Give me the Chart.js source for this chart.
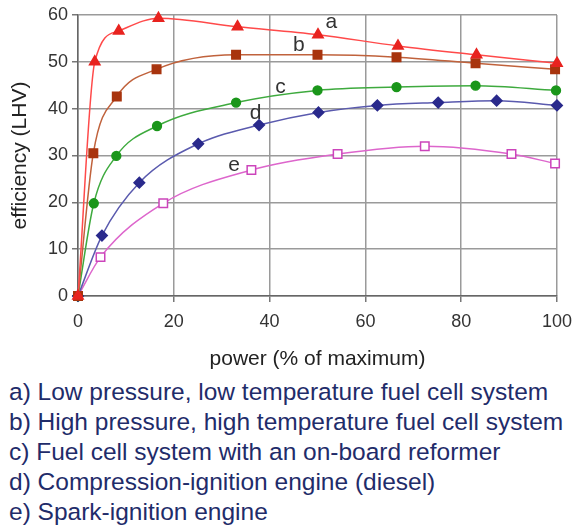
<!DOCTYPE html>
<html>
<head>
<meta charset="utf-8">
<script src="https://cdn.jsdelivr.net/npm/chart.js@4/dist/chart.umd.min.js"></script>
<style>
  html, body { margin: 0; padding: 0; background: #fff; }
  #wrap { position: relative; width: 581px; height: 375px; }
  #legend { position: absolute; left: 9px; top: 377px; font-family: 'Liberation Sans', Arial, sans-serif; font-size: 24.5px; line-height: 30px; color: #1f2c6a; white-space: nowrap; }
</style>
</head>
<body>
<div id="wrap"><canvas id="c"></canvas></div>
<div id="legend"></div>
<script>
// ---- data (x = power % of maximum, y = efficiency LHV) ----
const xTicks = [0, 20, 40, 60, 80, 100];
const yTicks = [0, 10, 20, 30, 40, 50, 60];

const aX = [0, 3.5, 8.5, 16.8, 33.3, 50.1, 66.8, 83.2, 100];
const aY = [0, 50.0, 56.6, 59.3, 57.5, 55.8, 53.4, 51.5, 49.7];

const bX = [0, 3.2, 8.1, 16.4, 33.0, 50.0, 66.5, 83.0, 99.6];
const bY = [0, 30.5, 42.6, 48.4, 51.5, 51.5, 51.0, 49.7, 48.4];

const cX = [0, 3.3, 8.0, 16.5, 33.0, 50.0, 66.5, 83.0, 99.8];
const cY = [0, 19.8, 29.9, 36.3, 41.3, 43.9, 44.6, 44.9, 43.9];

const dX = [0, 5.0, 12.8, 25.1, 37.8, 50.2, 62.5, 75.2, 87.4, 100];
const dY = [0, 12.9, 24.2, 32.5, 36.5, 39.2, 40.7, 41.3, 41.7, 40.7];

const eX = [0, 4.7, 17.8, 36.2, 54.2, 72.4, 90.5, 99.6];
const eY = [0, 8.3, 19.8, 26.9, 30.3, 32.0, 30.3, 28.3];

const curveNames = ['a', 'b', 'c', 'd', 'e'];
const curveLabelX = [52.9, 46.1, 42.3, 37.1, 32.6];
const curveLabelY = [58.4, 53.6, 44.6, 39.0, 27.9];

const legendLines = [
  'a) Low pressure, low temperature fuel cell system',
  'b) High pressure, high temperature fuel cell system',
  'c) Fuel cell system with an on-board reformer',
  'd) Compression-ignition engine (diesel)',
  'e) Spark-ignition engine'
];

const xTitle = 'power (% of maximum)';
const yTitle = 'efficiency (LHV)';

// ---- build ----
function pts(xs, ys) { return xs.map((x, i) => ({x: x, y: ys[i]})); }

const FONT = "'Liberation Sans', Arial, sans-serif";

const styles = [
  {line: '#ff4a4a', mark: '#e8231f', fill: '#e8231f', shape: 'triangle', r: 6.0},
  {line: '#c0623c', mark: '#a8340e', fill: '#a8340e', shape: 'rect', r: 6.0},
  {line: '#3eaa3e', mark: '#1a961a', fill: '#1a961a', shape: 'circle', r: 4.4},
  {line: '#5a5aae', mark: '#2a2a8c', fill: '#2a2a8c', shape: 'rectRot', r: 5.3},
  {line: '#dd66cc', mark: '#cc44bb', fill: '#ffffff', shape: 'rect', r: 6.0}
];
const series = [pts(aX, aY), pts(bX, bY), pts(cX, cY), pts(dX, dY), pts(eX, eY)];

const datasets = series.map((d, i) => ({
  label: curveNames[i],
  data: d,
  showLine: true,
  borderColor: styles[i].line,
  borderWidth: 1.5,
  cubicInterpolationMode: 'monotone',
  pointStyle: styles[i].shape,
  pointRadius: styles[i].r,
  pointBackgroundColor: styles[i].fill,
  pointBorderColor: styles[i].mark,
  pointBorderWidth: 1.5,
  clip: 10
}));

const curveLabels = {
  id: 'curveLabels',
  afterDatasetsDraw(chart) {
    const {ctx, scales: {x, y}} = chart;
    ctx.save();
    ctx.font = '21px ' + FONT;
    ctx.fillStyle = '#333';
    ctx.textAlign = 'center';
    ctx.textBaseline = 'middle';
    curveNames.forEach((n, i) => {
      ctx.fillText(n, x.getPixelForValue(curveLabelX[i]), y.getPixelForValue(curveLabelY[i]));
    });
    ctx.restore();
  }
};

new Chart(document.getElementById('c'), {
  type: 'scatter',
  data: {datasets},
  plugins: [curveLabels],
  options: {
    responsive: true,
    maintainAspectRatio: false,
    animation: false,
    layout: {padding: {left: 0, right: 21, top: 15, bottom: 0}},
    plugins: {legend: {display: false}, tooltip: {enabled: false}},
    scales: {
      x: {
        type: 'linear', min: 0, max: 100,
        afterBuildTicks(s) { s.ticks = xTicks.map(v => ({value: v})); },
        afterFit(s) { s.height = 79; },
        grid: {color: '#9a9a9a', lineWidth: 1.5, tickLength: 6, tickColor: '#777'},
        border: {color: '#666', width: 1.5},
        ticks: {color: '#333', font: {family: FONT, size: 18}, padding: 9, maxRotation: 0},
        title: {display: true, text: xTitle, color: '#222', font: {family: FONT, size: 21}, padding: {top: 0, bottom: 3}}
      },
      y: {
        type: 'linear', min: 0, max: 60,
        afterBuildTicks(s) { s.ticks = yTicks.map(v => ({value: v})); },
        afterFit(s) { s.width = 78; },
        grid: {color: '#9a9a9a', lineWidth: 1.5, tickLength: 6, tickColor: '#777'},
        border: {color: '#666', width: 1.5},
        ticks: {color: '#333', font: {family: FONT, size: 18}, padding: 4},
        title: {display: true, text: yTitle, color: '#222', font: {family: FONT, size: 21}, padding: {top: 8, bottom: 0}}
      }
    }
  }
});

const lg = document.getElementById('legend');
legendLines.forEach(t => { const d = document.createElement('div'); d.textContent = t; lg.appendChild(d); });
</script>
</body>
</html>
